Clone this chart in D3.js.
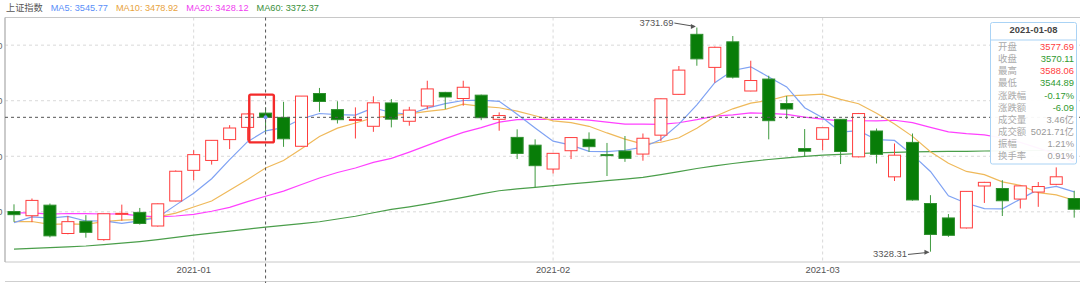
<!DOCTYPE html>
<html>
<head>
<meta charset="utf-8">
<script src="https://cdn.jsdelivr.net/npm/d3@7"></script>
<style>
  html, body { margin: 0; padding: 0; background: #fff; overflow: hidden; }
  svg { display: block; font-family: 'Liberation Sans', 'Noto Sans CJK SC', sans-serif; }
</style>
</head>
<body>
<div id="chart-container"></div>
<script>
// --- data ---
const dates = [
  '2020-12-18','2020-12-21','2020-12-22','2020-12-23','2020-12-24','2020-12-25','2020-12-28','2020-12-29','2020-12-30','2020-12-31',
  '2021-01-04','2021-01-05','2021-01-06','2021-01-07','2021-01-08','2021-01-11','2021-01-12','2021-01-13','2021-01-14','2021-01-15',
  '2021-01-18','2021-01-19','2021-01-20','2021-01-21','2021-01-22','2021-01-25','2021-01-26','2021-01-27','2021-01-28','2021-01-29',
  '2021-02-01','2021-02-02','2021-02-03','2021-02-04','2021-02-05','2021-02-08','2021-02-09','2021-02-10','2021-02-18','2021-02-19',
  '2021-02-22','2021-02-23','2021-02-24','2021-02-25','2021-02-26','2021-03-01','2021-03-02','2021-03-03','2021-03-04','2021-03-05',
  '2021-03-08','2021-03-09','2021-03-10','2021-03-11','2021-03-12','2021-03-15','2021-03-16','2021-03-17','2021-03-18','2021-03-19'
];
const opens = [
  3400.6, 3393.0, 3412.0, 3361.0, 3383.0, 3350.0, 3395.5, 3399.0, 3374.5, 3419.5,
  3474.7, 3492.5, 3530.0, 3552.0, 3577.69, 3570.0, 3518.0, 3613.0, 3584.0, 3564.5,
  3554.0, 3596.0, 3563.0, 3590.5, 3615.0, 3604.0, 3610.0, 3566.5, 3534.0, 3520.0,
  3477.0, 3510.0, 3530.5, 3503.0, 3509.5, 3504.0, 3538.0, 3611.5, 3719.5, 3660.0,
  3706.0, 3617.5, 3639.0, 3595.0, 3514.0, 3530.5, 3566.5, 3499.0, 3545.5, 3463.0,
  3525.0, 3415.0, 3389.0, 3371.0, 3446.5, 3442.0, 3423.0, 3435.6, 3449.5, 3424.0
];
const closes = [
  3394.90, 3420.57, 3356.78, 3382.32, 3363.11, 3396.56, 3397.29, 3379.04, 3414.45, 3473.07,
  3502.96, 3528.68, 3550.88, 3576.20, 3570.11, 3531.50, 3608.34, 3598.65, 3565.90, 3566.38,
  3596.22, 3566.80, 3583.09, 3621.26, 3606.75, 3624.24, 3569.43, 3573.34, 3505.18, 3483.07,
  3505.28, 3533.68, 3517.31, 3501.86, 3496.33, 3532.44, 3603.49, 3655.09, 3675.36, 3696.17,
  3642.44, 3636.36, 3564.08, 3585.05, 3509.08, 3551.40, 3508.59, 3576.90, 3503.49, 3501.99,
  3421.41, 3359.29, 3357.74, 3436.83, 3453.08, 3419.95, 3446.73, 3445.55, 3463.07, 3404.66
];
const highs = [
  3413.5, 3424.0, 3415.0, 3392.5, 3394.0, 3397.0, 3413.0, 3407.0, 3415.0, 3474.5,
  3511.0, 3529.0, 3556.0, 3577.0, 3588.06, 3598.0, 3608.5, 3623.0, 3599.0, 3588.0,
  3608.0, 3603.0, 3589.0, 3636.0, 3616.0, 3636.0, 3611.0, 3579.0, 3548.5, 3530.5,
  3506.0, 3534.0, 3543.0, 3524.0, 3536.5, 3541.0, 3604.0, 3662.5, 3731.69, 3697.5,
  3716.5, 3672.0, 3645.0, 3608.5, 3549.0, 3551.5, 3567.0, 3578.0, 3550.0, 3523.0,
  3541.0, 3430.0, 3396.0, 3437.0, 3454.0, 3457.0, 3447.0, 3453.7, 3480.0, 3438.0
];
const lows = [
  3382.0, 3381.5, 3354.0, 3359.5, 3353.5, 3348.0, 3384.0, 3377.0, 3373.5, 3419.0,
  3457.0, 3485.0, 3513.0, 3528.0, 3544.89, 3517.0, 3517.5, 3580.0, 3559.0, 3532.0,
  3544.0, 3552.0, 3555.0, 3584.5, 3585.0, 3591.0, 3565.0, 3546.0, 3495.0, 3444.0,
  3469.0, 3495.0, 3508.0, 3464.5, 3490.0, 3492.0, 3527.0, 3611.0, 3663.0, 3632.5,
  3640.0, 3617.0, 3530.5, 3567.0, 3499.0, 3511.0, 3486.0, 3498.0, 3487.0, 3455.5,
  3420.0, 3328.31, 3355.0, 3370.0, 3416.0, 3392.5, 3406.0, 3409.0, 3448.0, 3389.5
];
const ma5 = [
  3380.62, 3390.91, 3388.82, 3391.89, 3383.54, 3383.87, 3379.21, 3383.66, 3390.09, 3412.08,
  3433.36, 3459.64, 3494.01, 3526.36, 3545.77, 3551.47, 3567.41, 3576.96, 3574.90, 3574.15,
  3587.10, 3578.79, 3575.68, 3586.75, 3594.82, 3600.43, 3600.95, 3599.00, 3575.79, 3551.05,
  3527.26, 3520.11, 3508.90, 3508.24, 3510.89, 3516.32, 3530.29, 3557.84, 3592.54, 3632.51,
  3654.51, 3661.08, 3642.88, 3624.82, 3587.40, 3569.19, 3543.64, 3546.20, 3529.89, 3528.47,
  3502.48, 3472.62, 3428.78, 3415.45, 3405.67, 3405.38, 3422.87, 3440.43, 3445.68, 3435.99
];
const ma10 = [
  3382.23, 3382.63, 3377.29, 3378.32, 3377.31, 3382.24, 3385.06, 3386.24, 3390.99, 3397.81,
  3408.62, 3419.43, 3438.84, 3458.22, 3478.92, 3492.42, 3513.52, 3535.48, 3550.63, 3559.96,
  3569.29, 3573.10, 3576.32, 3580.83, 3584.49, 3593.76, 3589.87, 3587.34, 3581.27, 3572.94,
  3563.84, 3560.53, 3553.95, 3542.01, 3530.97, 3521.79, 3525.20, 3533.37, 3550.39, 3571.70,
  3585.42, 3595.69, 3600.36, 3608.68, 3609.96, 3611.85, 3602.36, 3594.54, 3577.36, 3557.94,
  3535.84, 3508.13, 3487.49, 3472.67, 3467.07, 3453.93, 3447.74, 3434.61, 3430.56, 3420.83
];
const ma20 = [
  3397.99, 3398.29, 3395.99, 3396.99, 3396.66, 3396.07, 3396.35, 3392.70, 3390.96, 3392.50,
  3395.42, 3401.03, 3408.06, 3418.27, 3428.12, 3437.33, 3449.29, 3460.86, 3470.81, 3478.88,
  3488.95, 3496.26, 3507.58, 3519.52, 3531.71, 3543.09, 3551.70, 3561.41, 3565.95, 3566.45,
  3566.57, 3566.82, 3565.14, 3561.42, 3557.73, 3557.78, 3557.54, 3560.36, 3565.83, 3572.32,
  3574.63, 3578.11, 3577.16, 3575.35, 3570.46, 3566.82, 3563.78, 3563.96, 3563.87, 3564.82,
  3560.63, 3551.91, 3543.93, 3540.68, 3538.51, 3532.89, 3525.05, 3514.57, 3503.96, 3489.38
];
const ma60 = [
  3333.0, 3334.2, 3335.5, 3337.0, 3338.5, 3340.8, 3343.6, 3346.5, 3350.0, 3354.1,
  3358.0, 3361.6, 3365.2, 3368.9, 3372.37, 3375.6, 3378.7, 3382.2, 3387.1, 3392.0,
  3398.3, 3404.5, 3409.0, 3414.2, 3420.1, 3426.0, 3432.3, 3438.0, 3441.2, 3444.0,
  3447.1, 3450.2, 3453.0, 3456.1, 3459.0, 3462.1, 3467.0, 3472.5, 3478.0, 3482.6,
  3487.0, 3490.8, 3494.2, 3497.0, 3499.8, 3502.0, 3503.6, 3505.0, 3506.2, 3507.1,
  3508.0, 3508.3, 3508.8, 3509.0, 3509.5, 3509.8, 3510.1, 3510.4, 3510.7, 3511.0
];
const yTicks = [3400, 3500, 3600, 3700];
const monthTickDates = ['2021-01-04', '2021-02-01', '2021-03-01'];
const monthTickLabels = ['2021-01', '2021-02', '2021-03'];

const legendItems = [
  { name: 'MA5', value: '3545.77', color: '#5b8ff9', line: '#7fa2f3' },
  { name: 'MA10', value: '3478.92', color: '#e8a33d', line: '#efb95a' },
  { name: 'MA20', value: '3428.12', color: '#f03cf0', line: '#ff40ff' },
  { name: 'MA60', value: '3372.37', color: '#3a8f3a', line: '#4a9e4a' }
];
const seriesName = '上证指数';

const selectedDate = '2021-01-08';
const tipRows = [
  { label: '开盘', value: '3577.69', color: '#ff4040' },
  { label: '收盘', value: '3570.11', color: '#2f9a2f' },
  { label: '最高', value: '3588.06', color: '#ff4040' },
  { label: '最低', value: '3544.89', color: '#2f9a2f' },
  { label: '涨跌幅', value: '-0.17%', color: '#2f9a2f' },
  { label: '涨跌额', value: '-6.09', color: '#2f9a2f' },
  { label: '成交量', value: '3.46亿', color: '#999' },
  { label: '成交额', value: '5021.71亿', color: '#999' },
  { label: '振幅', value: '1.21%', color: '#999' },
  { label: '换手率', value: '0.91%', color: '#999' }
];
const maxMark = { date: '2021-02-18', value: 3731.69 };
const minMark = { date: '2021-03-09', value: 3328.31 };

// --- drawing ---
const width = 1080, height = 283;
const plot = { left: 5, top: 17.5, bottom: 262, step: 17.97 };

const svg = d3.select('#chart-container').append('svg')
  .attr('width', width).attr('height', height);

const x = d3.scaleBand()
  .domain(dates)
  .range([plot.left, plot.left + plot.step * dates.length])
  .padding(0);
const cx = d => x(d) + x.bandwidth() / 2;

const y = d3.scaleLinear()
  .domain([3309.7, 3749.8])
  .range([plot.bottom, plot.top]);

const data = dates.map((d, i) => ({
  date: d, open: opens[i], close: closes[i], high: highs[i], low: lows[i]
}));

// horizontal grid + cut-off y labels
const yAxis = svg.append('g')
  .attr('transform', `translate(${plot.left},0)`)
  .call(d3.axisLeft(y).tickValues(yTicks).tickSize(0).tickPadding(2.5));
yAxis.select('.domain').remove();
yAxis.selectAll('text').attr('fill', '#666').style('font-size', '9.4px');

svg.append('g').selectAll('line')
  .data(yTicks).enter().append('line')
  .attr('x1', plot.left).attr('x2', width)
  .attr('y1', d => y(d)).attr('y2', d => y(d))
  .attr('stroke', '#d9d9d9').attr('stroke-dasharray', '3,3');

// vertical month grid
svg.append('g').selectAll('line')
  .data(monthTickDates).enter().append('line')
  .attr('x1', d => cx(d)).attr('x2', d => cx(d))
  .attr('y1', plot.top).attr('y2', plot.bottom)
  .attr('stroke', '#d9d9d9').attr('stroke-dasharray', '3,3');

// x axis labels
const xAxis = svg.append('g')
  .attr('transform', `translate(0,${plot.bottom})`)
  .call(d3.axisBottom(x).tickValues(monthTickDates)
    .tickFormat((d, i) => monthTickLabels[i]).tickSize(0).tickPadding(4));
xAxis.select('.domain').remove();
xAxis.selectAll('text').attr('fill', '#555').style('font-size', '9.4px');

// frame
svg.append('line').attr('x1', plot.left).attr('x2', width)
  .attr('y1', plot.top).attr('y2', plot.top).attr('stroke', '#c8c8c8');
svg.append('line').attr('x1', plot.left).attr('x2', width)
  .attr('y1', plot.bottom).attr('y2', plot.bottom).attr('stroke', '#c8c8c8');
svg.append('line').attr('x1', plot.left).attr('x2', plot.left)
  .attr('y1', plot.top).attr('y2', plot.bottom).attr('stroke', '#b5b5b5').attr('stroke-width', 1.4);
svg.append('line').attr('x1', plot.left).attr('x2', width)
  .attr('y1', 281.5).attr('y2', 281.5).attr('stroke', '#cfcfcf');

// moving averages
const maSeries = [ma60, ma20, ma10, ma5];
const maColors = [legendItems[3].line, legendItems[2].line, legendItems[1].line, legendItems[0].line];
maSeries.forEach((vals, k) => {
  const line = d3.line()
    .x((v, i) => cx(dates[i]))
    .y(v => y(v));
  svg.append('path')
    .datum(vals)
    .attr('fill', 'none')
    .attr('stroke', maColors[k])
    .attr('stroke-width', 1.2)
    .attr('d', line);
});

// candles
const bodyW = 12;
const up = '#ff3d3d', down = '#087d08';
const candles = svg.append('g');
data.forEach(d => {
  const rising = d.close >= d.open;
  const col = rising ? up : down;
  const top = y(Math.max(d.open, d.close));
  const bot = y(Math.min(d.open, d.close));
  candles.append('line')
    .attr('x1', cx(d.date)).attr('x2', cx(d.date))
    .attr('y1', y(d.high)).attr('y2', y(d.low))
    .attr('stroke', rising ? up : '#3f9a3f').attr('stroke-width', 1);
  candles.append('rect')
    .attr('x', cx(d.date) - bodyW / 2)
    .attr('y', top)
    .attr('width', bodyW)
    .attr('height', Math.max(1, bot - top))
    .attr('fill', rising ? '#fff' : down)
    .attr('stroke', rising ? up : '#2e8f2e')
    .attr('stroke-width', 1);
});

// max / min annotations
function markLabel(mark, dy, textX) {
  const px = cx(mark.date), py = y(mark.value);
  svg.append('text')
    .attr('x', px + textX).attr('y', py + dy)
    .attr('text-anchor', 'end')
    .attr('dominant-baseline', 'middle')
    .attr('fill', '#555').style('font-size', '9.4px')
    .text(mark.value.toFixed(2));
  svg.append('line')
    .attr('x1', px + textX + 1).attr('y1', py + dy)
    .attr('x2', px - 2).attr('y2', py + dy * 0.25)
    .attr('stroke', '#555').attr('stroke-width', 1);
  svg.append('path')
    .attr('d', `M${px - 1},${py + dy * 0.25} l-5,-2.5 l0,5 z`)
    .attr('fill', '#555');
}
markLabel(maxMark, -4.5, -23.5);
markLabel(minMark, 2.8, -23.5);

// crosshair
const selClose = closes[dates.indexOf(selectedDate)];
svg.append('line')
  .attr('x1', plot.left).attr('x2', width)
  .attr('y1', y(selClose)).attr('y2', y(selClose))
  .attr('stroke', '#555').attr('stroke-dasharray', '3,3');
svg.append('line')
  .attr('x1', cx(selectedDate)).attr('x2', cx(selectedDate))
  .attr('y1', plot.top).attr('y2', height)
  .attr('stroke', '#555').attr('stroke-dasharray', '3,3');
svg.append('circle')
  .attr('cx', cx(selectedDate)).attr('cy', y(selClose)).attr('r', 2)
  .attr('fill', '#6f97f2');

// highlight box around the selected candle
svg.append('rect')
  .attr('x', cx(selectedDate) - 16.3)
  .attr('y', y(3611))
  .attr('width', 24.6)
  .attr('height', y(3525) - y(3611))
  .attr('rx', 1.5)
  .attr('fill', 'none')
  .attr('stroke', '#f42a2a')
  .attr('stroke-width', 2.4);

// legend
const legend = svg.append('g').style('font-size', '9.2px');
legend.append('text').attr('x', 6).attr('y', 10.6).attr('fill', '#555').text(seriesName);
let lx = 50.7;
legendItems.forEach(item => {
  const t = legend.append('text')
    .attr('x', lx).attr('y', 10.6)
    .attr('fill', item.color)
    .text(`${item.name}: ${item.value}`);
  lx += t.node().getComputedTextLength() + 8;
});

// tooltip
const tip = svg.append('g').attr('transform', 'translate(990.5,22.5)');
const tipW = 86, tipH = 141.5;
tip.append('rect')
  .attr('width', tipW).attr('height', tipH).attr('rx', 2)
  .attr('fill', '#fff').attr('fill-opacity', 0.95)
  .attr('stroke', '#aad3f5').attr('stroke-width', 1);
tip.append('text')
  .attr('x', tipW / 2).attr('y', 8.5)
  .attr('text-anchor', 'middle').attr('dominant-baseline', 'middle')
  .attr('fill', '#444').style('font-size', '9.4px').style('font-weight', 'bold')
  .text(selectedDate);
tip.append('line').attr('x1', 0).attr('x2', tipW)
  .attr('y1', 17.5).attr('y2', 17.5).attr('stroke', '#aad3f5');
tipRows.forEach((r, i) => {
  const ry = 25 + i * 12.15;
  tip.append('text')
    .attr('x', 7.5).attr('y', ry)
    .attr('dominant-baseline', 'middle')
    .attr('fill', '#aaa').style('font-size', '9.4px')
    .text(r.label);
  tip.append('text')
    .attr('x', tipW - 2.5).attr('y', ry)
    .attr('text-anchor', 'end').attr('dominant-baseline', 'middle')
    .attr('fill', r.color).style('font-size', '9.4px')
    .text(r.value);
});
</script>
</body>
</html>
